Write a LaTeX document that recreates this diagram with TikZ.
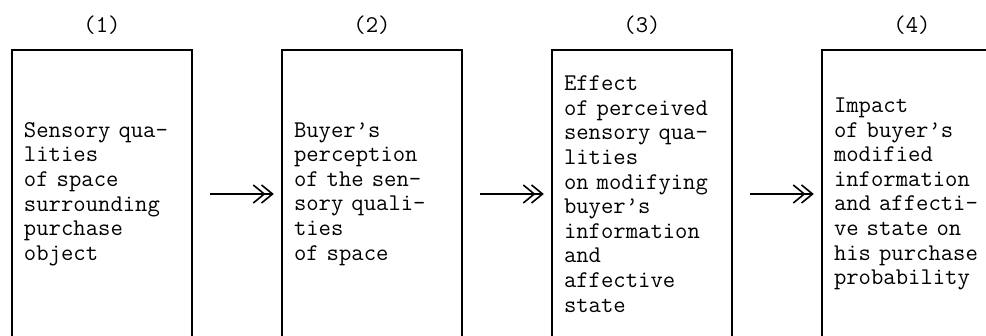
\documentclass[tikz,border=0pt]{standalone}
\usetikzlibrary{arrows.meta}
\usetikzlibrary{positioning}

\begin{document}
\begin{tikzpicture}[
      stage/.style ={rectangle, draw, line width=1pt, text width=78pt, inner xsep=6pt,
                     minimum height=144pt, align=left,
                     font=\ttfamily\fontsize{12pt}{12.3pt}\selectfont},
      num/.style ={inner sep=0pt, font=\ttfamily\fontsize{12pt}{12.3pt}\selectfont},
      flow/.style ={->>, line width=1pt, shorten <=8.5pt, shorten >=6pt},
      >={Straight Barb[length=5.5pt,width=9pt,line width=0.8pt,sep=-2.4pt]},
      node distance=44pt
    ]
    \useasboundingbox (0,0) rectangle (493pt,-168pt) ;
    \clip (0,0) rectangle (493pt,-168pt) ;

    \node [stage, anchor=north west] (space) at (5.5pt,-24.5pt) {Sensory qua-\\lities\\of space\\surrounding\\purchase\\object} ;
    \node [stage] (percep) [right=of space] {Buyer’s\\perception\\of the sen-\\sory quali-\\ties\\of space} ;
    \node [stage] (effect) [right=of percep] {Effect\\of perceived\\sensory qua-\\lities\\on modifying\\buyer’s\\information\\and\\affective\\state} ;
    \node [stage] (impact) [right=of effect] {Impact\\of buyer’s\\modified\\information\\and affecti-\\ve state on\\his purchase\\probability} ;

    \node [num] (n1) [above=7pt of space] {(1)} ;
    \node [num] (n2) [above=7pt of percep] {(2)} ;
    \node [num] (n3) [above=7pt of effect] {(3)} ;
    \node [num] (n4) [above=7pt of impact] {(4)} ;

    \draw [flow] (space) -- (percep) ;
    \draw [flow] (percep) -- (effect) ;
    \draw [flow] (effect) -- (impact) ;
  \end{tikzpicture}
\end{document}
